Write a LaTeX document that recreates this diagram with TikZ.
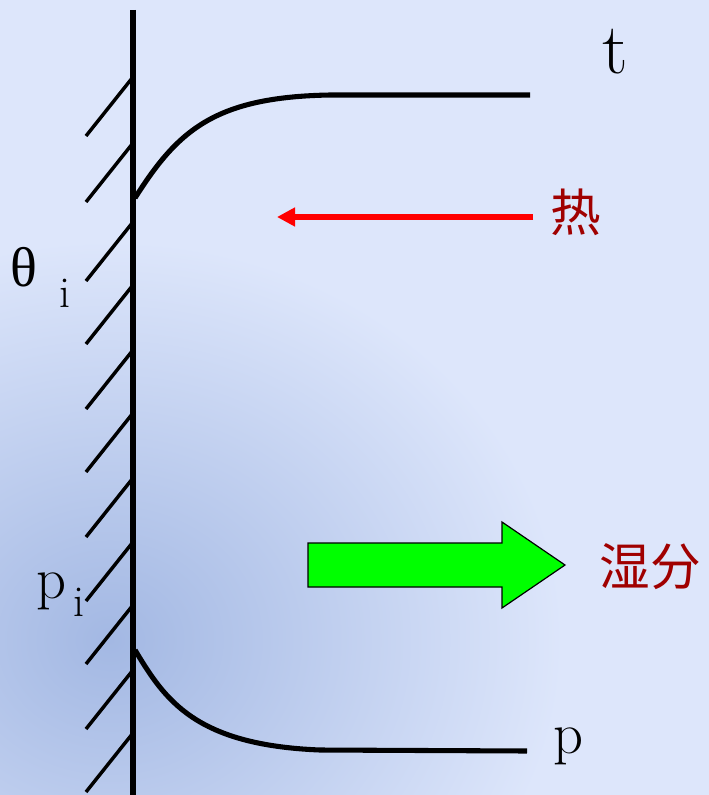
\documentclass[tikz,border=0pt]{standalone}
\usepackage{fontspec}
\newfontfamily\cjk{Noto Sans CJK SC}
\newfontfamily\greek{Liberation Serif}
\usepackage{tikz}
\usetikzlibrary{arrows.meta}
\usepackage{xcolor}
\definecolor{PaleSky}{HTML}{DDE6FB}
\definecolor{PhotoBlue}{HTML}{A3B8E3}
\definecolor{HeatRed}{HTML}{FF0000}
\definecolor{LabelRed}{HTML}{A00000}
\definecolor{FluxGreen}{HTML}{00FF00}
\tikzset{
    wall/.style={
        line width=3.8pt,
        black
    },
    hatch/.style={
        line width=2.6pt,
        black
    },
    profile/.style={
        line width=3.8pt,
        black
    },
    heatarrow/.style={
        -{Triangle[length=13.5pt, width=13.5pt]},
        line width=4.5pt,
        HeatRed
    },
    fluxarrow/.style={
        draw=black,
        line width=0.9pt,
        fill=FluxGreen
    },
    symbol/.style={
        inner sep=0pt,
        font=\fontsize{44}{44}\selectfont
    },
    subsymbol/.style={
        inner sep=0pt,
        font=\fontsize{33}{33}\selectfont
    },
    cnlabel/.style={
        inner sep=0pt,
        text=LabelRed,
        font=\cjk\fontsize{38}{38}\selectfont
    }
}

\begin{document}
\begin{tikzpicture}[x=0.75pt, y=-0.75pt]
        % background
        \useasboundingbox (0,0) rectangle (709,795);
        \begin{scope}
            \clip (0,0) rectangle (709,795);
            \fill[PaleSky] (0,0) rectangle (709,795);
            \shade[inner color=PhotoBlue, outer color=PaleSky] (110,640) ellipse [x radius=340pt, y radius=300pt];
        \end{scope}

        % wall with hatching
        \coordinate (wallTop) at (133,10);
        \coordinate (wallBottom) at (133,795);
        \foreach \y in {77,143,222,285,350,413,478,542,605,670,733} {
            \draw[hatch] (133,\y) -- (86,\y+59);
        }
        \draw[wall] (wallTop) -- (wallBottom);

        % temperature and vapour pressure profiles
        \coordinate (tWall) at (135,198);
        \coordinate (tEnd) at (530,95);
        \coordinate (pWall) at (135,650);
        \coordinate (pEnd) at (527,751);
        \draw[profile] (tWall) .. controls (178,130) and (215,97) .. (330,95) -- (tEnd);
        \draw[profile] (pWall) .. controls (165,700) and (195,745) .. (320,750) -- (pEnd);

        % heat flow
        \coordinate (heatTail) at (533,217);
        \coordinate (heatTip) at (277,217);
        \draw[heatarrow] (heatTail) -- (heatTip);

        % moisture flow
        \coordinate (fluxTail) at (308,565);
        \coordinate (fluxTip) at (565,565);
        \draw[fluxarrow] (308,543) -- (502,543) -- (502,522) -- (fluxTip) -- (502,608) -- (502,587) -- (308,587) -- cycle;

        % labels
        \node[symbol, font=\fontsize{54}{54}\selectfont] (tLabel) at (615,52) {t};
        \node[symbol] (pLabel) at (568,746) {p};
        \node[symbol, font=\greek\fontsize{42}{42}\selectfont] (thetaLabel) at (24,267) {θ};
        \node[subsymbol] (thetaSub) at (65,293) {i};
        \node[symbol] (piLabel) at (51,591) {p};
        \node[subsymbol] (piSub) at (79,602) {i};
        \node[cnlabel] (heatLabel) at (576,212) {热};
        \node[cnlabel] (fluxLabel) at (650,567) {湿分};
    \end{tikzpicture}
\end{document}
